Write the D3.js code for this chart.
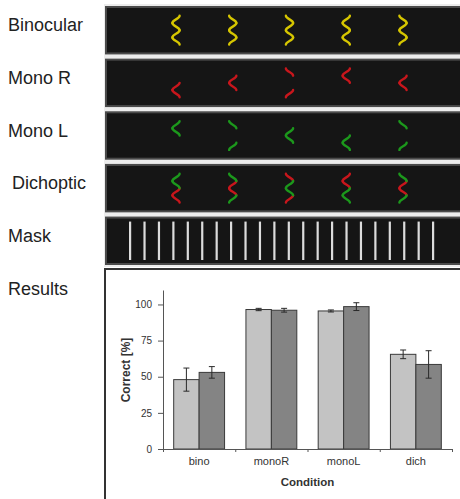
<!DOCTYPE html>
<html lang="en">
<head>
    <meta charset="UTF-8">
    <title>Stimuli and results</title>
    <script src="https://d3js.org/d3.v7.min.js"></script>
    <style>
        * {
            margin: 0;
            padding: 0;
            box-sizing: border-box;
        }
        body {
            font-family: "Liberation Sans", Arial, sans-serif;
            background: #fff;
        }
    </style>
</head>
<body>
    <div id="chart"></div>
    <script>
        // stimulus rows
        const rows = ["Binocular", "Mono R", "Mono L", "Dichoptic", "Mask"];
        const rowLabelX = [8, 8, 8, 12, 8];
        // zigzag orientation per element: 1 = "<<", -1 = ">>"
        const elementDir = [1, -1, -1, 1, -1];
        // which of the 4 zigzag segments each eye sees
        const rightEyeSegs = [[2, 3], [1, 2], [0, 3], [0, 1], [1, 2]];
        const leftEyeSegs = [[0, 1], [0, 3], [1, 2], [2, 3], [0, 3]];
        const maskBarCount = 22;

        // results
        const conditions = ["bino", "monoR", "monoL", "dich"];
        const groups = ["g1", "g2"];
        const meanG1 = [48, 96.5, 95.5, 65.5];
        const errG1 = [8, 0.8, 0.7, 3];
        const meanG2 = [53, 96, 98.5, 58.5];
        const errG2 = [4, 1.3, 2.7, 9.5];
        const yTicks = [0, 25, 50, 75, 100];

        const W = 460, H = 499;
        const svg = d3.select("#chart").append("svg")
            .attr("width", W)
            .attr("height", H);

        const colors = { yellow: "#d6c600", red: "#c8161c", green: "#1c981c" };

        // ---------- stimulus panels ----------
        const rowY = d3.scaleBand()
            .domain(rows)
            .range([7, 264])
            .paddingInner(0.118);

        const elX = d3.scalePoint()
            .domain(d3.range(elementDir.length))
            .range([176, 403]);

        const maskX = d3.scalePoint()
            .domain(d3.range(maskBarCount))
            .range([130, 433]);

        // gap background between panels
        svg.append("rect")
            .attr("x", 104).attr("y", 4)
            .attr("width", W).attr("height", 263)
            .attr("fill", "#ececec");

        svg.selectAll(".panel")
            .data(rows)
            .join("rect")
            .attr("class", "panel")
            .attr("x", 106)
            .attr("y", d => rowY(d))
            .attr("width", W)
            .attr("height", rowY.bandwidth())
            .attr("fill", "#151515")
            .attr("stroke", "#4a4a4a")
            .attr("stroke-width", 2);

        svg.selectAll(".rowlabel")
            .data(rows)
            .join("text")
            .attr("class", "rowlabel")
            .attr("x", (d, i) => rowLabelX[i])
            .attr("y", d => rowY(d) + rowY.bandwidth() / 2 + 1)
            .attr("font-size", "18px")
            .attr("fill", "#222")
            .text(d => d);

        const zigH = 7.2, zigW = 3.6;
        // one wavy segment of a zigzag, as an S-shaped cubic curve
        function segPath(i, s, cy) {
            const cx = elX(i), d = elementDir[i];
            const xs = [1, -1, 1, -1, 1].map(v => cx + d * zigW * v);
            const ys = [-2, -1, 0, 1, 2].map(v => cy + v * zigH);
            const x1 = xs[s], y1 = ys[s], x2 = xs[s + 1], y2 = ys[s + 1];
            const k = zigH * 0.45;
            return `M${x1},${y1}C${x1},${y1 + k} ${x2},${y2 - k} ${x2},${y2}`;
        }

        function drawSegs(row, list, color) {
            const cy = rowY(row) + rowY.bandwidth() / 2;
            svg.append("g")
                .selectAll("path")
                .data(list)
                .join("path")
                .attr("d", d => segPath(d.i, d.s, cy))
                .attr("fill", "none")
                .attr("stroke", d => d.c || color)
                .attr("stroke-width", 2.4)
                .attr("stroke-linecap", "round");
        }

        const allSegs = [];
        elementDir.forEach((d, i) => [0, 1, 2, 3].forEach(s => allSegs.push({ i, s })));
        const rSegs = [], lSegs = [], dSegs = [];
        rightEyeSegs.forEach((segs, i) => segs.forEach(s => {
            rSegs.push({ i, s });
            dSegs.push({ i, s, c: colors.red });
        }));
        leftEyeSegs.forEach((segs, i) => segs.forEach(s => {
            lSegs.push({ i, s });
            dSegs.push({ i, s, c: colors.green });
        }));

        drawSegs("Binocular", allSegs, colors.yellow);
        drawSegs("Mono R", rSegs, colors.red);
        drawSegs("Mono L", lSegs, colors.green);
        drawSegs("Dichoptic", dSegs);

        svg.append("g")
            .selectAll("rect")
            .data(d3.range(maskBarCount))
            .join("rect")
            .attr("x", d => maskX(d) - 1)
            .attr("y", rowY("Mask") + 4)
            .attr("width", 2.2)
            .attr("height", rowY.bandwidth() - 8)
            .attr("fill", "#dcdcdc");

        // ---------- results ----------
        svg.append("text")
            .attr("x", 8)
            .attr("y", 295)
            .attr("font-size", "18px")
            .attr("fill", "#222")
            .text("Results");

        svg.append("rect")
            .attr("x", 105).attr("y", 269)
            .attr("width", 400).attr("height", 300)
            .attr("fill", "#fff")
            .attr("stroke", "#333")
            .attr("stroke-width", 2);

        const plot = { left: 163, right: 452, top: 290, bottom: 449 };

        const x = d3.scaleBand()
            .domain(conditions)
            .range([plot.left, plot.right]);

        const xInner = d3.scaleBand()
            .domain(groups)
            .range([0, x.bandwidth()])
            .paddingOuter(0.42);

        const y = d3.scaleLinear()
            .domain([0, 110])
            .range([plot.bottom, plot.top]);

        const data = [];
        conditions.forEach((c, i) => {
            data.push({ c, g: "g1", v: meanG1[i], e: errG1[i] });
            data.push({ c, g: "g2", v: meanG2[i], e: errG2[i] });
        });
        const fill = { g1: "#c3c3c3", g2: "#848484" };

        svg.append("g")
            .selectAll("rect")
            .data(data)
            .join("rect")
            .attr("x", d => x(d.c) + xInner(d.g))
            .attr("y", d => y(d.v))
            .attr("width", xInner.bandwidth())
            .attr("height", d => y(0) - y(d.v))
            .attr("fill", d => fill[d.g])
            .attr("stroke", "#3a3a3a")
            .attr("stroke-width", 1);

        const eb = svg.append("g")
            .attr("stroke", "#2a2a2a")
            .attr("stroke-width", 1);
        const cx = d => x(d.c) + xInner(d.g) + xInner.bandwidth() / 2;
        eb.selectAll(".ev").data(data).join("line")
            .attr("x1", cx).attr("x2", cx)
            .attr("y1", d => y(d.v - d.e)).attr("y2", d => y(d.v + d.e));
        eb.selectAll(".et").data(data).join("line")
            .attr("x1", d => cx(d) - 3).attr("x2", d => cx(d) + 3)
            .attr("y1", d => y(d.v + d.e)).attr("y2", d => y(d.v + d.e));
        eb.selectAll(".eb").data(data).join("line")
            .attr("x1", d => cx(d) - 3).attr("x2", d => cx(d) + 3)
            .attr("y1", d => y(d.v - d.e)).attr("y2", d => y(d.v - d.e));

        // y axis
        const yAxis = svg.append("g")
            .attr("transform", `translate(${plot.left},0)`)
            .call(d3.axisLeft(y).tickValues(yTicks).tickSize(5).tickPadding(6).tickSizeOuter(0));
        yAxis.select(".domain").attr("stroke", "#555");
        yAxis.selectAll(".tick line").attr("stroke", "#555");
        yAxis.selectAll("text")
            .attr("font-family", "'Liberation Sans', Arial, sans-serif")
            .attr("font-size", "10px")
            .attr("fill", "#333");

        // x axis: boundary ticks + labels
        const xb = d3.scaleLinear().domain([0, conditions.length]).range([plot.left, plot.right]);
        const xAxis = svg.append("g")
            .attr("transform", `translate(0,${plot.bottom})`)
            .call(d3.axisBottom(xb).ticks(conditions.length).tickSize(3).tickFormat("").tickSizeOuter(0));
        xAxis.select(".domain").attr("stroke", "#555");
        xAxis.selectAll(".tick line").attr("stroke", "#555");

        const xLabels = svg.append("g")
            .attr("transform", `translate(0,${plot.bottom})`)
            .call(d3.axisBottom(x).tickSize(0).tickPadding(8));
        xLabels.select(".domain").remove();
        xLabels.selectAll("text")
            .attr("font-family", "'Liberation Sans', Arial, sans-serif")
            .attr("font-size", "11px")
            .attr("fill", "#333");

        svg.append("text")
            .attr("x", (plot.left + plot.right) / 2)
            .attr("y", 486)
            .attr("text-anchor", "middle")
            .attr("font-size", "11.5px")
            .attr("font-weight", "bold")
            .attr("fill", "#333")
            .text("Condition");

        svg.append("text")
            .attr("transform", `translate(130,370) rotate(-90)`)
            .attr("text-anchor", "middle")
            .attr("font-size", "12px")
            .attr("font-weight", "bold")
            .attr("fill", "#333")
            .text("Correct [%]");
    </script>
</body>
</html>
